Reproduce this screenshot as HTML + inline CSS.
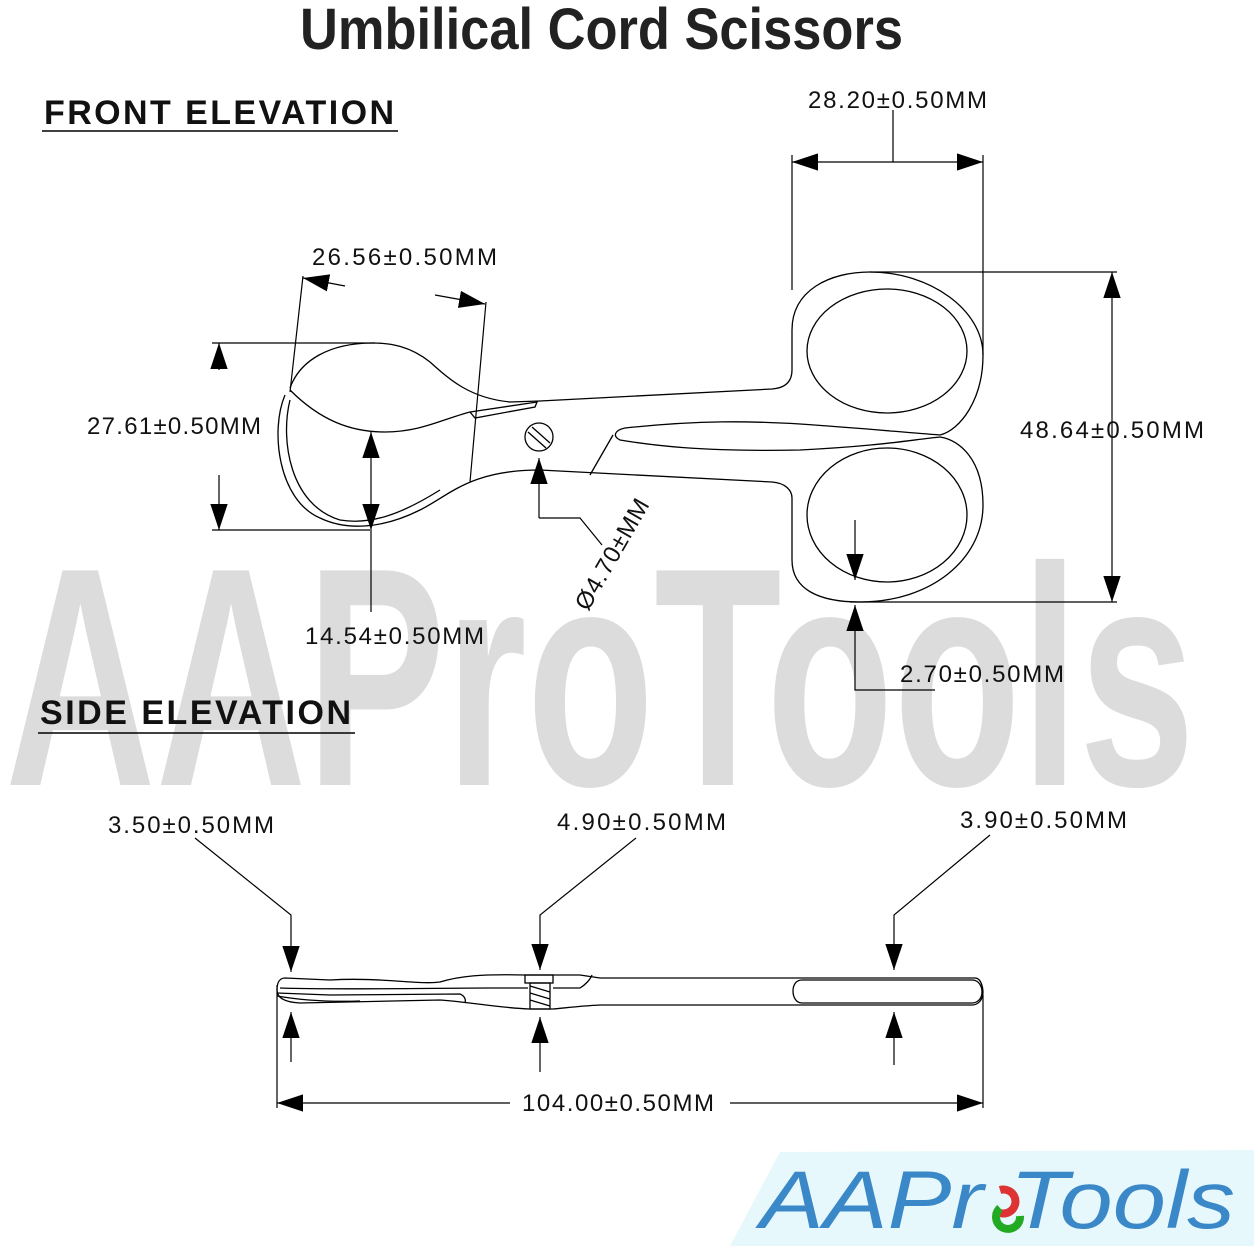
<!DOCTYPE html>
<html><head><meta charset="utf-8"><style>
html,body{margin:0;padding:0;background:#fff}
svg{display:block}
.d{font-family:"Liberation Sans",sans-serif;font-size:24px;fill:#111;letter-spacing:1px}
</style></head><body>
<svg width="1254" height="1246" viewBox="0 0 1254 1246" xmlns="http://www.w3.org/2000/svg">
<defs>
<marker id="a" viewBox="0 0 10 10" refX="10" refY="5" markerWidth="10" markerHeight="10" markerUnits="userSpaceOnUse" orient="auto-start-reverse">
<path d="M0,0 L10,5 L0,10 z" fill="#000"/></marker>
<marker id="b" viewBox="0 0 30 20" refX="30" refY="10" markerWidth="26" markerHeight="18" markerUnits="userSpaceOnUse" orient="auto-start-reverse">
<path d="M0,0 L30,10 L0,20 z" fill="#000"/></marker>
</defs>
<!-- watermark -->
<text x="5" y="785" font-family="Liberation Sans,sans-serif" font-weight="bold" font-size="312" fill="#dcdcdc" textLength="1190" lengthAdjust="spacingAndGlyphs">AAProTools</text>
<!-- title -->
<text x="300" y="49" font-family="Liberation Sans,sans-serif" font-weight="bold" font-size="58" fill="#222" textLength="603" lengthAdjust="spacingAndGlyphs">Umbilical Cord Scissors</text>

<text x="44" y="124" class="d" style="font-size:34px;font-weight:bold;letter-spacing:2px" textLength="352">FRONT ELEVATION</text>
<line x1="42" y1="131" x2="398" y2="131" stroke="#000" stroke-width="1.5"/>
<text x="40" y="724" class="d" style="font-size:34px;font-weight:bold;letter-spacing:2px" textLength="313">SIDE ELEVATION</text>
<line x1="38" y1="733" x2="355" y2="733" stroke="#000" stroke-width="1.5"/>

<g fill="none" stroke="#000" stroke-width="1.3">
<!-- rings -->
<path d="M792,370 L792,330 C792,290 830,272 870,272 C930,272 983,310 983,355 C983,400 960,430 940,435"/>
<ellipse cx="887" cy="351" rx="80" ry="62"/>
<path d="M792,498 L792,560 C792,590 820,602 860,602 C930,602 983,560 983,505 C983,460 960,440 940,437"/>
<ellipse cx="887" cy="515" rx="80" ry="67"/>
<!-- upper half -->
<path d="M792,370 C792,382 785,388 772,389 L540,401 L510,402 C470,398 450,380 430,362 C410,346 390,343 373,343 C330,343 300,360 290,388"/>
<path d="M290,390 C320,420 350,432 385,432 C420,432 440,420 470,412 L537,402 L535,407 L475,418 L470,412"/>
<!-- lower half -->
<path d="M285,395 C270,430 278,500 320,518 C345,530 380,530 420,510 C450,495 470,470 540,470 L772,482 C785,483 792,490 792,498"/>
<path d="M290,400 C280,440 290,505 340,520 C370,525 400,515 440,490"/>
<!-- middle handle -->
<path d="M940,435 C900,432 860,428 800,424 C750,421 700,420 625,428 C615,430 612,436 620,440 C650,445 700,452 800,450 C880,446 910,440 940,437"/>
<line x1="613" y1="435" x2="590" y2="475"/>
<!-- screw -->
<circle cx="539" cy="437" r="14"/>
<line x1="528" y1="432" x2="546" y2="448"/><line x1="532" y1="427" x2="550" y2="443"/>
</g>

<!-- dimensions -->
<g stroke="#000" stroke-width="1.2" fill="none">
<line x1="792" y1="155" x2="792" y2="290"/><line x1="983" y1="155" x2="983" y2="355"/>
<line x1="792" y1="162" x2="983" y2="162" marker-start="url(#b)" marker-end="url(#b)"/>
<line x1="893" y1="110" x2="893" y2="162"/>
<line x1="870" y1="272" x2="1117" y2="272"/><line x1="850" y1="602" x2="1117" y2="602"/>
<line x1="1112" y1="272" x2="1112" y2="602" marker-start="url(#b)" marker-end="url(#b)"/>
<line x1="212" y1="343" x2="375" y2="343"/><line x1="212" y1="530" x2="370" y2="530"/>
<line x1="219" y1="343" x2="219" y2="370" marker-start="url(#b)"/>
<line x1="219" y1="475" x2="219" y2="530" marker-end="url(#b)"/>
<line x1="371" y1="432" x2="371" y2="530" marker-start="url(#b)" marker-end="url(#b)"/>
<line x1="371" y1="530" x2="371" y2="612"/>
<line x1="303" y1="276" x2="290" y2="392"/><line x1="486" y1="302" x2="470" y2="482"/>
<line x1="345" y1="286" x2="303" y2="278" marker-end="url(#b)"/>
<line x1="435" y1="295" x2="485" y2="304" marker-end="url(#b)"/>
<line x1="539" y1="518" x2="539" y2="458" marker-end="url(#b)"/>
<polyline points="539,518 580,518 602,545"/>
<line x1="855" y1="520" x2="855" y2="580" marker-end="url(#b)"/>
<polyline points="935,690 855,690 855,605" marker-end="url(#b)"/>
</g>
<text x="808" y="108" class="d" textLength="180">28.20±0.50MM</text>
<text x="1020" y="438" class="d" textLength="185">48.64±0.50MM</text>
<text x="87" y="434" class="d" textLength="175">27.61±0.50MM</text>
<text x="312" y="265" class="d" textLength="186">26.56±0.50MM</text>
<text x="305" y="644" class="d" textLength="180">14.54±0.50MM</text>
<text x="900" y="682" class="d" textLength="165">2.70±0.50MM</text>
<text transform="translate(588,612) rotate(-60)" class="d" textLength="125">Ø4.70±MM</text>

<!-- side elevation -->
<g fill="none" stroke="#000" stroke-width="1.3">
<path d="M285,978 L330,980 C380,977 420,985 440,982 C460,976 480,974 525,975 L580,975 L600,978 L975,978 C982,978 983,990 983,992 C983,1000 978,1005 972,1005 L600,1005 C580,1006 565,1008 553,1009 L530,1009 C500,1008 470,1002 440,1000 L300,1003 C280,1002 277,995 277,990 C277,982 280,978 285,978 Z"/>
<path d="M277,993 L330,995 L460,994 C465,996 466,1000 465,1003"/>
<path d="M277,996 C300,1000 330,1002 360,1001"/>
<path d="M280,988 C340,990 440,988 490,988 L528,988"/>
<path d="M553,988 L580,988 C585,985 590,980 592,975"/>
<path d="M802,980 L972,980 C980,980 982,988 982,992 C982,998 978,1003 972,1003 L802,1003 C796,1003 793,997 793,991 C793,985 796,980 802,980 Z"/>
<rect x="525" y="975" width="28" height="8"/>
<rect x="530" y="983" width="20" height="26"/>
<path d="M530,986 L550,992 M530,993 L550,999 M530,1000 L550,1006"/>
</g>
<g stroke="#000" stroke-width="1.2" fill="none">
<polyline points="195,838 291,915 291,972" marker-end="url(#b)"/>
<polyline points="636,838 540,915 540,970" marker-end="url(#b)"/>
<polyline points="990,835 894,915 894,970" marker-end="url(#b)"/>
<line x1="291" y1="1062" x2="291" y2="1012" marker-end="url(#b)"/>
<line x1="540" y1="1072" x2="540" y2="1017" marker-end="url(#b)"/>
<line x1="894" y1="1065" x2="894" y2="1012" marker-end="url(#b)"/>
<line x1="277" y1="985" x2="277" y2="1108"/><line x1="983" y1="995" x2="983" y2="1108"/>
<line x1="277" y1="1103" x2="510" y2="1103" marker-start="url(#b)"/>
<line x1="730" y1="1103" x2="983" y2="1103" marker-end="url(#b)"/>
</g>
<text x="108" y="833" class="d" textLength="167">3.50±0.50MM</text>
<text x="557" y="830" class="d" textLength="170">4.90±0.50MM</text>
<text x="960" y="828" class="d" textLength="168">3.90±0.50MM</text>
<text x="522" y="1111" class="d" textLength="193">104.00±0.50MM</text>

<!-- logo -->
<polygon points="730,1246 780,1152 1254,1150 1254,1246" fill="#e6f8fb"/>
<text x="760" y="1228" font-family="Liberation Sans,sans-serif" font-style="italic" font-size="82" fill="#3a88c8" textLength="475" lengthAdjust="spacingAndGlyphs">AAPr  Tools</text>
<path d="M1000,1190 a12,12 0 1 1 -5,20" fill="none" stroke="#d33" stroke-width="8"/>
<path d="M1000,1208 a12,12 0 1 0 20,8" fill="none" stroke="#2a2" stroke-width="8"/>
</svg>
</body></html>
